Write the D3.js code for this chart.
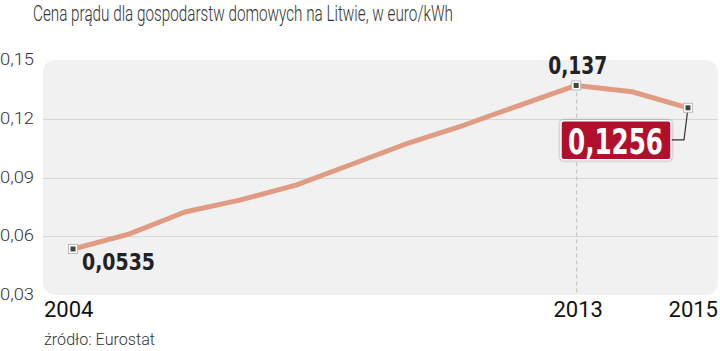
<!DOCTYPE html>
<html><head><meta charset="utf-8">
<script src="https://cdn.jsdelivr.net/npm/d3@7/dist/d3.min.js"></script>
<style>
html,body{margin:0;padding:0;background:#fff;}
svg{display:block;}
</style></head>
<body>
<svg id="chart" width="720" height="351"></svg>
<script>
const title = "Cena prądu dla gospodarstw domowych na Litwie, w euro/kWh";
const source = "źródło: Eurostat";
const years = [2004,2005,2006,2007,2008,2009,2010,2011,2012,2013,2014,2015];
const prices = [0.0535,0.0611,0.0724,0.0786,0.0862,0.0969,0.1076,0.1168,0.127,0.137,0.1338,0.1256];
const yTicks = [0.03,0.06,0.09,0.12,0.15];
const xLabels = [2004,2013,2015];
const highlighted = [2004,2013,2015];

const svg = d3.select("#chart");
const fmt = v => String(v).replace(".", ",");
const fmtTick = v => d3.format(".2f")(v).replace(".", ",");

const x = d3.scaleLinear().domain([2004,2015]).range([73,688]);
const y = d3.scaleLinear().domain([0.03,0.15]).range([295,60]);

const narrow = "'Liberation Sans Narrow','DejaVu Sans Condensed','Arial Narrow',sans-serif";
const light = "Roboto, 'Open Sans', sans-serif";

// title
svg.append("text").attr("x",33).attr("y",21)
  .attr("font-family",light).attr("font-size",22).attr("font-weight",300)
  .attr("fill","#333").attr("textLength",420).attr("lengthAdjust","spacingAndGlyphs")
  .text(title);

// panel
svg.append("rect").attr("x",43).attr("y",60).attr("width",675).attr("height",235)
  .attr("rx",12).attr("fill","#f1f1f2");

// gridlines
const inner = yTicks.filter(t => t>0.031 && t<0.149);
svg.append("g").selectAll("line").data(inner).join("line")
  .attr("x1",43).attr("x2",718)
  .attr("y1",d=>Math.round(y(d))+0.5).attr("y2",d=>Math.round(y(d))+0.5)
  .attr("stroke","#d6d6d8").attr("stroke-width",1);

// y tick labels
svg.append("g").selectAll("text").data(yTicks).join("text")
  .attr("x",0).attr("y",d=>y(d)+1).attr("dominant-baseline","middle")
  .attr("font-family",light).attr("font-size",16).attr("font-weight",300)
  .attr("fill","#333").attr("textLength",34).attr("lengthAdjust","spacingAndGlyphs")
  .text(fmtTick);

// dashed line at 2013
const i13 = years.indexOf(2013);
svg.append("line").attr("x1",x(2013)+0.5).attr("x2",x(2013)+0.5)
  .attr("y1",y(prices[i13])).attr("y2",295)
  .attr("stroke","#bdbdbd").attr("stroke-width",1).attr("stroke-dasharray","4,3");

// line
const line = d3.line().x((d,i)=>x(years[i])).y(d=>y(d)).curve(d3.curveLinear);
svg.append("path").datum(prices).attr("d",line)
  .attr("fill","none").attr("stroke","#e09c82").attr("stroke-width",5)
  .attr("stroke-linejoin","round").attr("stroke-linecap","round");

// connector for 2015 label
const i15 = years.indexOf(2015);
const px15 = x(2015), py15 = y(prices[i15]);
svg.append("path")
  .attr("d",`M${px15-17},${py15+32}H${px15-4}L${px15},${py15}`)
  .attr("fill","none").attr("stroke","#333").attr("stroke-width",1.2);

// markers
const mk = svg.append("g").selectAll("g").data(highlighted).join("g")
  .attr("transform",d=>`translate(${x(d)},${y(prices[years.indexOf(d)])})`);
mk.append("rect").attr("x",-4.5).attr("y",-4.5).attr("width",9).attr("height",9)
  .attr("fill","#fff").attr("stroke","#bbb").attr("stroke-width",1);
mk.append("rect").attr("x",-2.5).attr("y",-2.5).attr("width",5).attr("height",5)
  .attr("fill","#444");

// value labels
const i04 = years.indexOf(2004);
svg.append("text").attr("x",x(2004)+9).attr("y",y(prices[i04])+21)
  .attr("font-family",narrow).attr("font-size",23).attr("font-weight",700)
  .attr("fill","#222").attr("textLength",73).attr("lengthAdjust","spacingAndGlyphs")
  .text(fmt(prices[i04]));

svg.append("text").attr("x",x(2013)-28).attr("y",y(prices[i13])-11)
  .attr("font-family",narrow).attr("font-size",24).attr("font-weight",700)
  .attr("fill","#222").attr("textLength",59).attr("lengthAdjust","spacingAndGlyphs")
  .text(fmt(prices[i13]));

// red box label
const bx = px15-127, by = py15+13;
svg.append("rect").attr("x",bx).attr("y",by).attr("width",110).attr("height",39)
  .attr("rx",3).attr("fill","#b0102b").attr("stroke","#fff").attr("stroke-width",1.5)
  .style("filter","drop-shadow(0 0 1.5px rgba(0,0,0,0.35))");
svg.append("text").attr("x",bx+7).attr("y",by+33)
  .attr("font-family",narrow).attr("font-size",35).attr("font-weight",700)
  .attr("fill","#fff").attr("textLength",95).attr("lengthAdjust","spacingAndGlyphs")
  .text(fmt(prices[i15]));

// x labels
svg.append("g").selectAll("text").data(xLabels).join("text")
  .attr("x",d=> d===2004 ? 44 : d===2015 ? 718 : x(d)+2)
  .attr("text-anchor",d=> d===2004 ? "start" : d===2015 ? "end" : "middle")
  .attr("y",317)
  .attr("font-family","Roboto, Lato, sans-serif").attr("font-size",22).attr("font-weight",400)
  .attr("fill","#111").text(d=>d);

// source
svg.append("text").attr("x",44).attr("y",345)
  .attr("font-family",light).attr("font-size",16).attr("font-weight",300)
  .attr("fill","#333").attr("textLength",111).attr("lengthAdjust","spacingAndGlyphs")
  .text(source);
</script>
</body></html>
